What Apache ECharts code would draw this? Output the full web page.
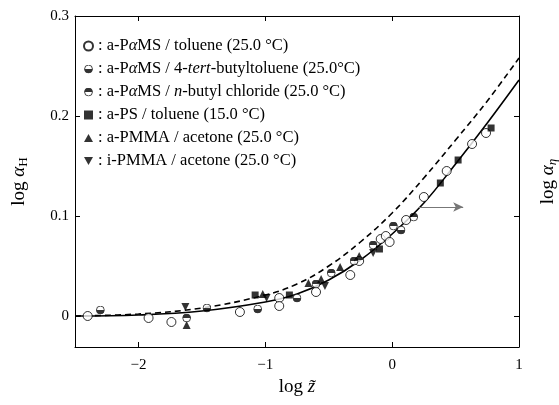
<!DOCTYPE html>
<html><head><meta charset="utf-8">
<script src="https://cdn.jsdelivr.net/npm/echarts@6/dist/echarts.min.js"></script>
<style>html,body{margin:0;padding:0;background:#fff}#c{width:559px;height:405px}</style>
</head><body><div id="c"></div>
<script>
// ---- data ----
const xTicks = [-2, -1, 0, 1];
const yTicks = [0, 0.1, 0.2, 0.3];
const curveX  = [-2.5, -2, -1.5, -1, -0.75, -0.5, -0.25, 0, 0.25, 0.5, 0.75, 1];
const solidY  = [0.000, 0.001, 0.005, 0.014, 0.022, 0.036, 0.056, 0.082, 0.113, 0.152, 0.193, 0.236];
const dashedY = [0.000, 0.002, 0.008, 0.021, 0.032, 0.050, 0.074, 0.103, 0.138, 0.176, 0.215, 0.258];
const pamsToluene = [[-2.40,0.000],[-1.92,-0.002],[-1.74,-0.006],[-1.20,0.004],[-0.89,0.018],[-0.89,0.010],[-0.60,0.024],[-0.33,0.041],[-0.26,0.055],[-0.09,0.077],[-0.05,0.080],[-0.02,0.074],[0.11,0.096],[0.25,0.119],[0.43,0.145],[0.63,0.172],[0.74,0.183]];
const pamsTertButyl = [[-2.30,0.006],[-1.46,0.008],[-1.06,0.007],[-0.75,0.018],[0.07,0.086]];
const pamsButylCl = [[-1.62,-0.002],[-0.60,0.032],[-0.48,0.043],[-0.30,0.055],[-0.15,0.071],[0.01,0.090],[0.17,0.099]];
const psToluene = [[-1.08,0.021],[-0.81,0.021],[-0.10,0.067],[0.38,0.133],[0.52,0.156],[0.78,0.188]];
const aPmmaAcetone = [[-1.62,-0.009],[-1.02,0.022],[-0.66,0.033],[-0.56,0.037],[-0.41,0.049],[-0.26,0.060]];
const iPmmaAcetone = [[-1.63,0.009],[-0.99,0.018],[-0.53,0.030],[-0.15,0.063]];
const arrowFrom = [0.21, 0.109], arrowTo = [0.56, 0.109];
const names = ['s1','s2','s3','s4','s5','s6'];
const labels = {
  s1: ': a-P{g|α}MS / toluene (25.0 °C)',
  s2: ': a-P{g|α}MS / 4-{g|tert}-butyltoluene (25.0°C)',
  s3: ': a-P{g|α}MS / {g|n}-butyl chloride (25.0 °C)',
  s4: ': a-PS / toluene (15.0 °C)',
  s5: ': a-PMMA / acetone (25.0 °C)',
  s6: ': i-PMMA / acetone (25.0 °C)'
};
// ---- styles ----
const F = 'Liberation Serif';
function halfIcon(bottom) {
  const sweep = bottom ? 0 : 1;
  const svg = "<svg xmlns='http://www.w3.org/2000/svg' width='40' height='40' viewBox='0 0 40 40'>" +
    "<circle cx='20' cy='20' r='17.5' fill='white'/>" +
    "<path d='M2.5,20 A17.5,17.5 0 0 " + sweep + " 37.5,20 Z' fill='black'/>" +
    "<circle cx='20' cy='20' r='17.5' fill='none' stroke='black' stroke-width='4'/></svg>";
  return 'image://data:image/svg+xml;charset=utf-8,' + encodeURIComponent(svg);
}
const triUp = 'path://M5,0 L10,9 L0,9 Z';
const triDown = 'path://M0,0 L10,0 L5,9 Z';
const fmt = v => v < 0 ? '\u2212' + Math.abs(v) : String(v);

const chart = echarts.init(document.getElementById('c'), null, {renderer: 'canvas'});
const axisLine = {show: true, onZero: false, lineStyle: {color: '#000', width: 1}};
const tick = (vals) => ({show: true, inside: true, length: 5, customValues: vals, lineStyle: {color: '#000', width: 1}});
const sc = (name, data, symbol, size, style) => ({
  type: 'scatter', name, data, symbol, symbolSize: size, itemStyle: style, z: 5, silent: true
});
chart.setOption({
  animation: false,
  backgroundColor: '#fff',
  grid: {left: 75, right: 40, top: 16, bottom: 58, outerBoundsMode: 'none', containLabel: false},
  legend: {
    data: names, orient: 'vertical', left: 78, top: 32, itemWidth: 9, itemHeight: 9, itemGap: 5,
    selectedMode: false,
    formatter: n => labels[n],
    textStyle: {fontFamily: F, fontSize: 16.5, color: '#000', lineHeight: 18,
      rich: {g: {fontFamily: F, fontSize: 16.5, fontStyle: 'italic', color: '#000', lineHeight: 18}}}
  },
  xAxis: [{
    type: 'value', min: -2.5, max: 1, position: 'bottom',
    axisLine, splitLine: {show: false}, axisTick: tick(xTicks),
    axisLabel: {customValues: xTicks, formatter: fmt, fontFamily: F, fontSize: 15, color: '#000', margin: 11},
    name: 'log {i|z\u0303}', nameLocation: 'middle', nameGap: 30,
    nameTextStyle: {fontFamily: F, fontSize: 19, color: '#000',
      rich: {i: {fontFamily: F, fontSize: 19, fontStyle: 'italic', color: '#000'}}}
  }, {
    type: 'value', min: -2.5, max: 1, position: 'top',
    axisLine, splitLine: {show: false}, axisTick: tick(xTicks), axisLabel: {show: false}
  }],
  yAxis: [{
    type: 'value', min: -0.031, max: 0.3, position: 'left',
    axisLine, splitLine: {show: false}, axisTick: tick(yTicks),
    axisLabel: {customValues: yTicks, formatter: fmt, fontFamily: F, fontSize: 15, color: '#000', margin: 6},
    name: 'log {i|α}{s|H}', nameLocation: 'middle', nameGap: 45, nameRotate: 90,
    nameTextStyle: {fontFamily: F, fontSize: 19, color: '#000',
      rich: {i: {fontFamily: F, fontSize: 19, fontStyle: 'italic', color: '#000'},
             s: {fontFamily: F, fontSize: 13, color: '#000', padding: [9, 0, 0, 0]}}}
  }, {
    type: 'value', min: -0.031, max: 0.3, position: 'right',
    axisLine, splitLine: {show: false}, axisTick: tick(yTicks), axisLabel: {show: false},
    name: 'log {i|α}{s|η}', nameLocation: 'middle', nameGap: 18, nameRotate: 90,
    nameTextStyle: {fontFamily: F, fontSize: 19, color: '#000',
      rich: {i: {fontFamily: F, fontSize: 19, fontStyle: 'italic', color: '#000'},
             s: {fontFamily: F, fontSize: 13, fontStyle: 'italic', color: '#000', padding: [9, 0, 0, 0]}}}
  }],
  series: [
    {type: 'line', name: 'dashed', data: curveX.map((x, i) => [x, dashedY[i]]), smooth: 0.4, symbol: 'none',
     lineStyle: {color: '#000', width: 1.6, type: [6, 4]}, z: 3, silent: true},
    {type: 'line', name: 'solid', data: curveX.map((x, i) => [x, solidY[i]]), smooth: 0.4, symbol: 'none',
     lineStyle: {color: '#000', width: 1.6}, z: 3, silent: true,
     markLine: {silent: true, symbol: ['none', 'arrow'], symbolSize: [7, 10], label: {show: false},
       lineStyle: {color: '#777', width: 1.2, type: 'solid'},
       data: [[{coord: arrowFrom}, {coord: arrowTo}]]}},
    sc('s1', pamsToluene, 'circle', 9, {color: '#fff', borderColor: '#000', borderWidth: 1}),
    sc('s2', pamsTertButyl, halfIcon(true), 9, {color: '#000'}),
    sc('s3', pamsButylCl, halfIcon(false), 9, {color: '#000'}),
    sc('s4', psToluene, 'rect', 7, {color: '#000'}),
    sc('s5', aPmmaAcetone, triUp, 8, {color: '#000'}),
    sc('s6', iPmmaAcetone, triDown, 8, {color: '#000'})
  ]
});
</script></body></html>
